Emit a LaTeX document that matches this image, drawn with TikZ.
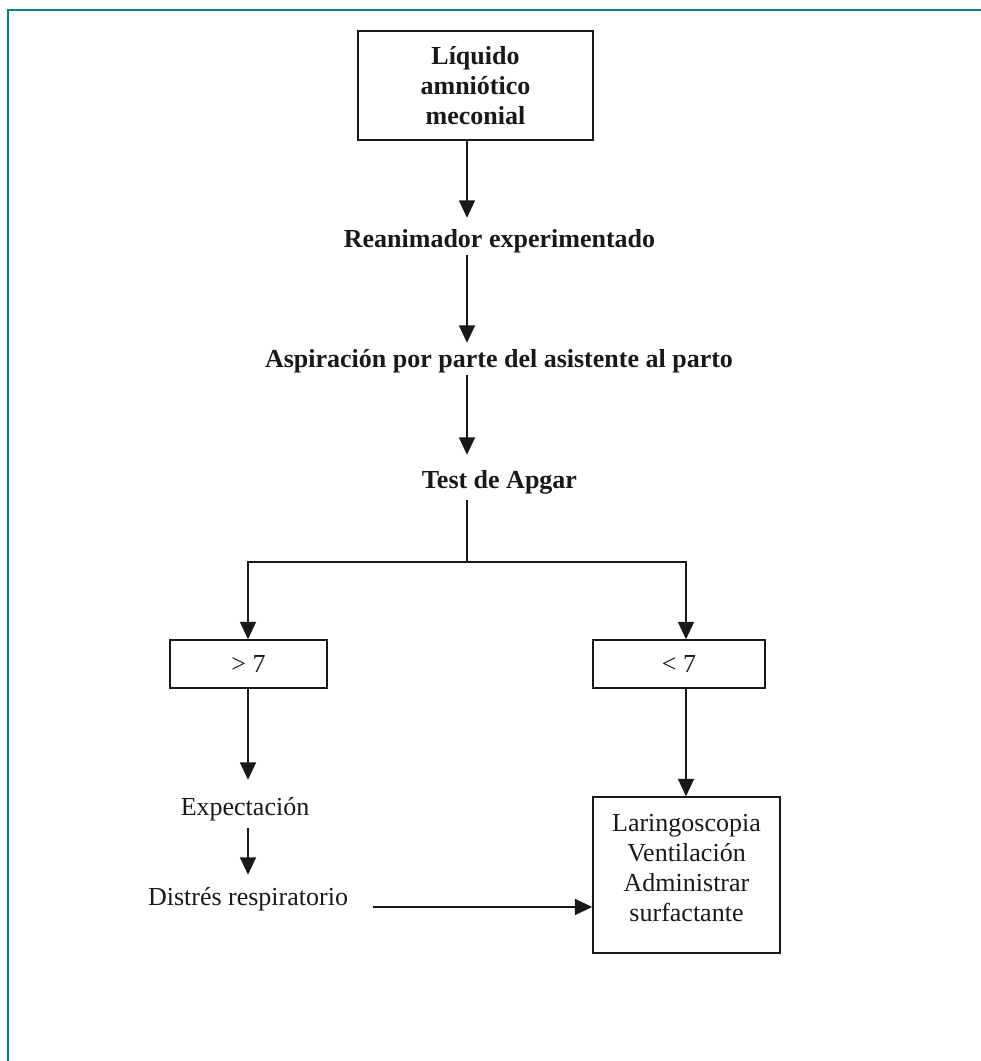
\documentclass[tikz,border=0pt]{standalone}
\usepackage{fontspec}
\setmainfont{Liberation Serif}
\usetikzlibrary{arrows.meta,calc}
\definecolor{frameteal}{RGB}{0,128,136}
\definecolor{ink}{RGB}{25,25,25}
\begin{document}
\begin{tikzpicture}[x=0.75pt,y=-0.75pt,
  every node/.style={font=\fontsize{19.5pt}{22.5pt}\selectfont, text=ink},
  boxnode/.style={draw=ink, line width=1.1pt, align=center, inner sep=0pt},
  lbl/.style={inner xsep=0pt, inner ysep=0pt, anchor=base},
  arr/.style={draw=ink, line width=1pt, -{Triangle[width=12pt,length=13pt]}},
  ln/.style={draw=ink, line width=1pt}]
\useasboundingbox (0,0) rectangle (981,1061);
\draw[frameteal, line width=1.5pt] (8,1061) -- (8,10) -- (981,10);

\coordinate (axis) at (467,0);
\coordinate (axl) at (248,0);
\coordinate (axr) at (686,0);

\node[boxnode, font=\bfseries\fontsize{19.5pt}{22.5pt}\selectfont, minimum width=176.25pt, minimum height=81.75pt] (top) at (475.5,85.5) {Líquido\\amniótico\\meconial};

\node[lbl, font=\bfseries\fontsize{19.5pt}{22.5pt}\selectfont, text height=21.75pt, text depth=6pt] (rean) at (499.5,247) {Reanimador experimentado};
\node[lbl, font=\bfseries\fontsize{19.5pt}{22.5pt}\selectfont, text height=18pt, text depth=6pt] (asp) at (499,367) {Aspiración por parte del asistente al parto};
\node[lbl, font=\bfseries\fontsize{19.5pt}{22.5pt}\selectfont, text height=24.75pt, text depth=9pt] (test) at (499.5,488) {Test de Apgar};

\node[boxnode, minimum width=117.75pt, minimum height=36pt] (gt) at (248.5,664) {> 7};
\node[boxnode, minimum width=129pt, minimum height=36pt] (lt) at (679,664) {< 7};

\node[lbl, text height=26.25pt, text depth=9.75pt] (exp) at (245,815) {Expectación};
\node[lbl, text height=22.5pt, text depth=6pt] (dis) at (248,905) {Distrés respiratorio};

\node[boxnode, minimum width=140.25pt, minimum height=117pt] (lar) at (686.5,875) {Laringoscopia\\Ventilación\\Administrar\\surfactante\\[-11.25pt]\mbox{}};

\draw[arr] (top.south -| axis) -- (rean.north -| axis);
\draw[arr] (rean.south -| axis) -- (asp.north -| axis);
\draw[arr] (asp.south -| axis) -- (test.north -| axis);
\coordinate (j) at (467,562);
\draw[ln] (test.south -| axis) -- (j);
\draw[arr] (j) -| (gt.north -| axl);
\draw[arr] (j) -| (lt.north -| axr);
\draw[arr] (gt.south -| axl) -- (exp.north -| axl);
\draw[arr] (exp.south -| axl) -- (dis.north -| axl);
\coordinate (dstart) at ($(dis.base east)+(25,2)$);
\draw[arr] (dstart) -- (dstart -| lar.west);
\draw[arr] (lt.south -| axr) -- (lar.north -| axr);
\end{tikzpicture}
\end{document}
